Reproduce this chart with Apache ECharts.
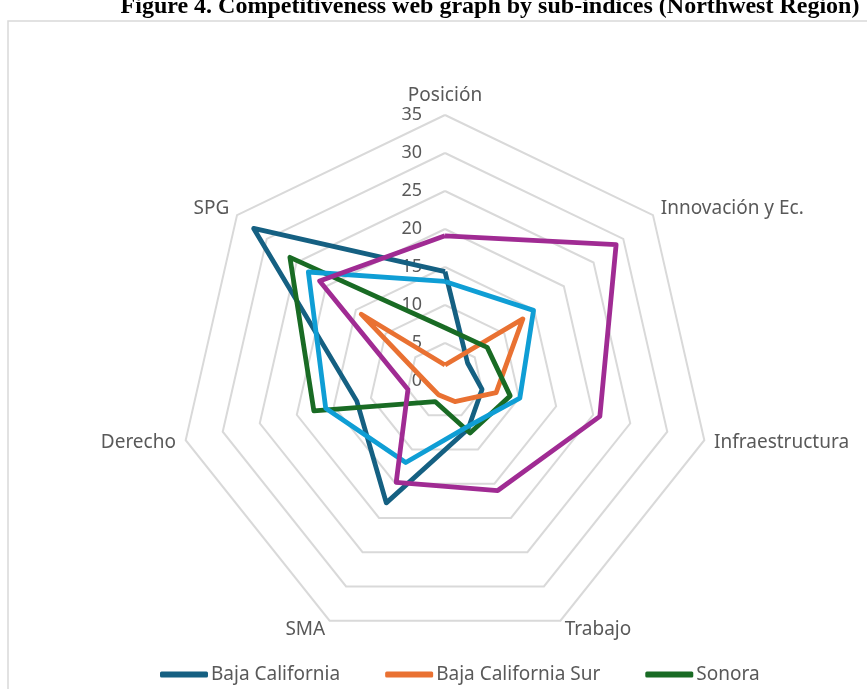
<!DOCTYPE html>
<html>
<head>
<meta charset="utf-8">
<script src="https://cdn.jsdelivr.net/npm/echarts@6/dist/echarts.min.js"></script>
<style>
  html, body { margin: 0; padding: 0; background: #ffffff; }
  #chart { width: 867px; height: 689px; }
</style>
</head>
<body>
<div id="chart"></div>
<script>
// Sub-index axes, listed clockwise from the top
const subIndices = ['Posición', 'Innovación y Ec.', 'Infraestructura', 'Trabajo', 'SMA', 'Derecho', 'SPG'];
const axisMax = 35;

// Scores per state, same order as subIndices
const bajaCalifornia    = [14.4, 3.8, 5.0, 7.0, 17.8, 11.9, 32.2];
const bajaCaliforniaSur = [2.1, 13.1, 6.9, 3.0, 2.0, 2.2, 14.1];
const sonora            = [7.0, 7.1, 8.8, 7.6, 3.0, 17.7, 26.1];
const sinaloa           = [13.1, 14.9, 10.1, 6.7, 11.9, 16.1, 23.0];
const chihuahua         = [19.1, 28.8, 20.9, 16.0, 14.8, 5.0, 21.1];

const legendNames = ['Baja California', 'Baja California Sur', 'Sonora'];

// ECharts lays radar indicators out counter-clockwise, so flip the tail
const ccw = arr => [arr[0]].concat(arr.slice(1).reverse());

const textGray = '#595959';
const uiFont = '"Noto Sans", Roboto, sans-serif';

const seriesDefs = [
  { name: 'Baja California', values: bajaCalifornia, color: '#156082' },
  { name: 'Baja California Sur', values: bajaCaliforniaSur, color: '#E97132' },
  { name: 'Sonora', values: sonora, color: '#196B24' },
  { name: 'Sinaloa', values: sinaloa, color: '#0F9ED5' },
  { name: 'Chihuahua', values: chihuahua, color: '#A02B93' }
];

// Value labels only along the top (Posición) axis, set to its left
const indicator = ccw(subIndices).map((name, i) => {
  const ind = { name: name, min: 0, max: axisMax };
  if (i === 0) ind.axisLabel = { show: true, margin: 23 };
  return ind;
});

const chart = echarts.init(document.getElementById('chart'), null, { renderer: 'canvas' });

chart.setOption({
  animation: false,
  backgroundColor: '#ffffff',
  graphic: [
    {
      type: 'rect',
      shape: { x: 8, y: 21, width: 900, height: 720 },
      style: { fill: 'none', stroke: '#d9d9d9', lineWidth: 1.5 },
      z: -1
    },
    {
      type: 'text',
      x: 490, y: 6.5,
      style: {
        text: 'Figure 4. Competitiveness web graph by sub-indices (Northwest Region)',
        font: 'bold 24px "Liberation Serif", "Times New Roman", serif',
        fill: '#000000',
        textAlign: 'center',
        textVerticalAlign: 'middle'
      }
    }
  ],
  legend: {
    data: legendNames,
    top: 660,
    left: 155,
    icon: 'roundRect',
    itemWidth: 48,
    itemHeight: 6,
    itemGap: 45,
    textStyle: { color: textGray, fontSize: 19, fontFamily: uiFont, padding: [0, 0, 0, -2] }
  },
  radar: {
    center: [445, 381],
    radius: 266,
    startAngle: 90,
    shape: 'polygon',
    splitNumber: 7,
    indicator: indicator,
    nameGap: 10,
    axisName: { color: textGray, fontSize: 19, fontFamily: uiFont },
    axisLine: { show: false },
    axisTick: { show: false },
    axisLabel: { show: false, color: textGray, fontSize: 18, fontFamily: uiFont },
    splitLine: { lineStyle: { color: '#d9d9d9', width: 2 } },
    splitArea: { show: false }
  },
  series: seriesDefs.map(s => ({
    type: 'radar',
    name: s.name,
    symbol: 'none',
    color: s.color,
    lineStyle: { color: s.color, width: 4.8, join: 'round' },
    data: [{ name: s.name, value: ccw(s.values) }]
  }))
});
</script>
</body>
</html>
